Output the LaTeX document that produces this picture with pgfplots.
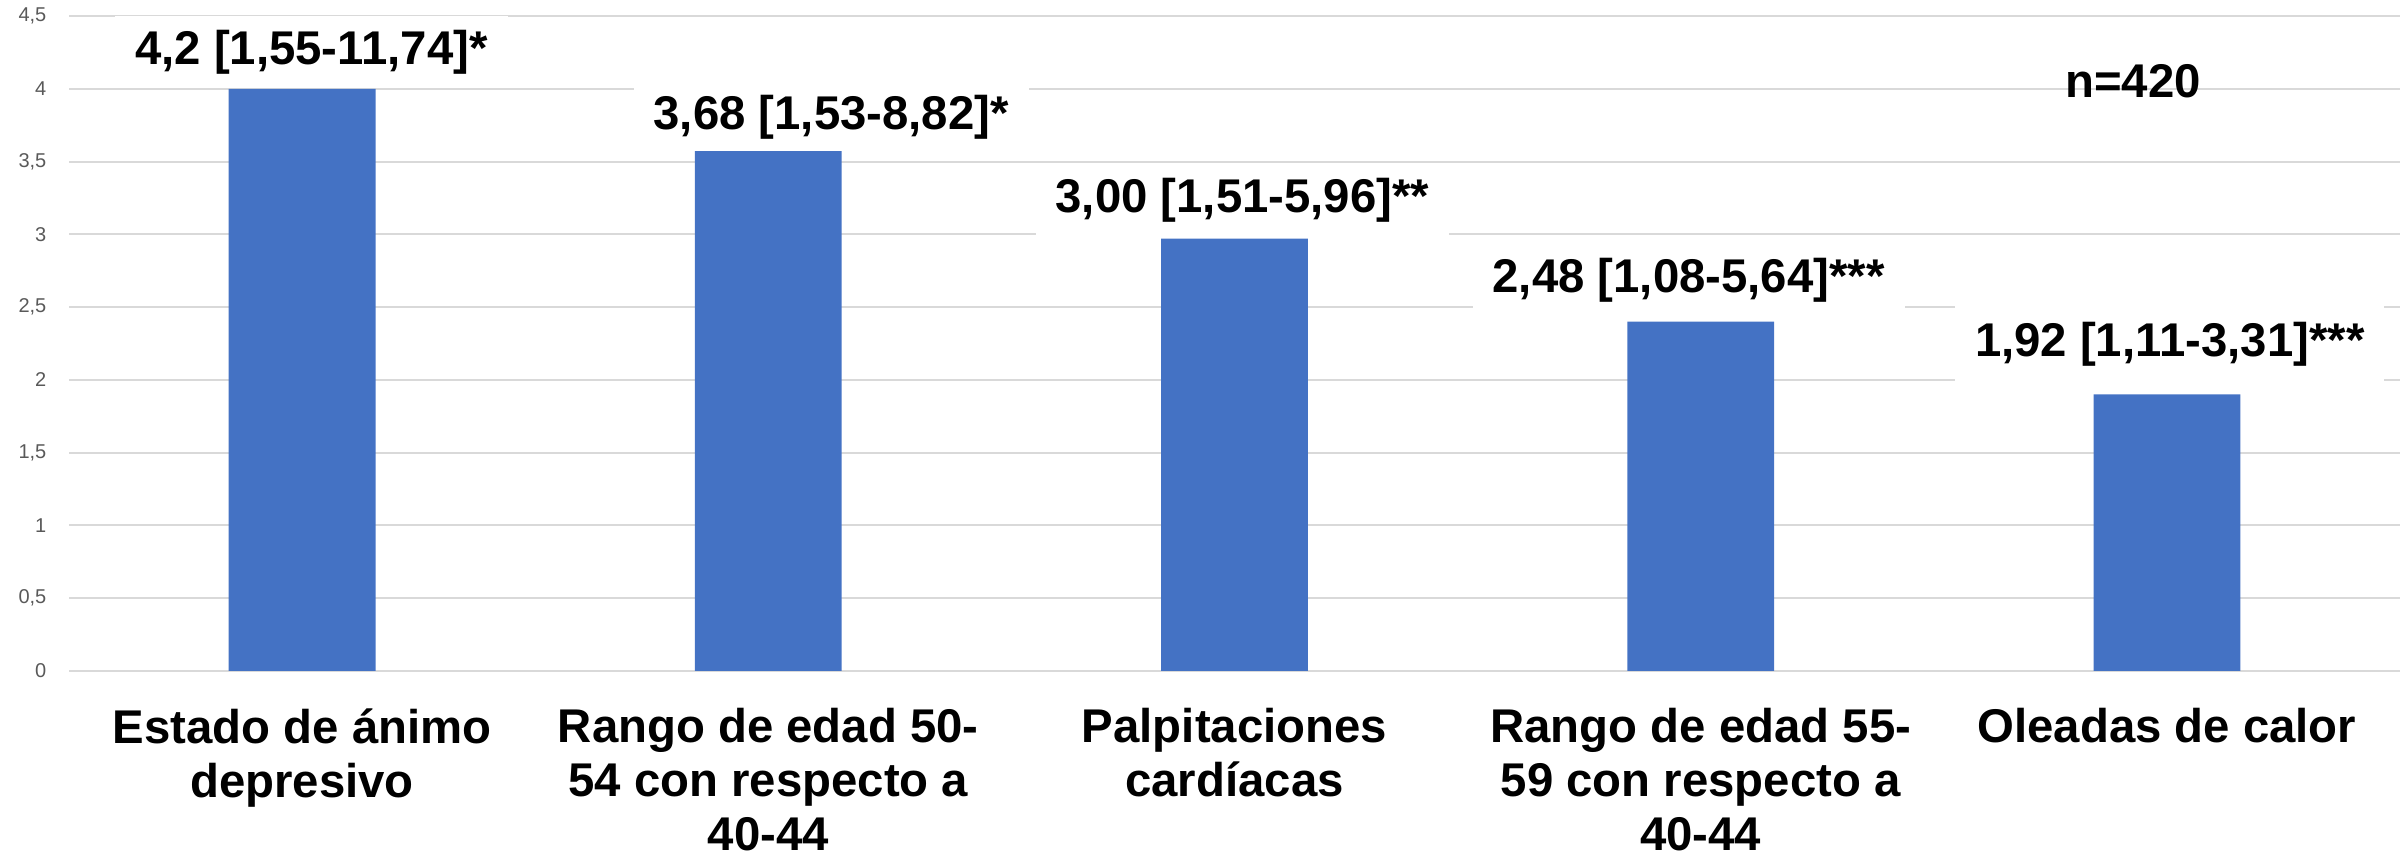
\documentclass[border=0pt]{standalone}
\usepackage{fontspec}
\setmainfont{Liberation Sans}
\usepackage{pgfplots}
\pgfplotsset{compat=1.18}
\usetikzlibrary{calc}
\definecolor{barblue}{HTML}{4472C4}
\definecolor{gridgray}{HTML}{D9D9D9}
\definecolor{tickgray}{HTML}{595959}

\begin{document}
\begin{tikzpicture}[x=1pt,y=1pt,
  lbl/.style={fill=white, inner xsep=6pt, inner ysep=3.5pt, anchor=base,
              font=\fontsize{14.2}{16}\selectfont\bfseries}]
\begin{axis}[
  name=ax,
  scale only axis,
  width=699.3pt, height=196.5pt,
  xmin=-0.5, xmax=4.5, ymin=0, ymax=4.5,
  ytick={0,0.5,1,1.5,2,2.5,3,3.5,4,4.5},
  yticklabel style={/pgf/number format/.cd, use comma, assume math mode=true,
     /tikz/.cd, font=\fontsize{6}{7}\selectfont, text=tickgray, inner xsep=0pt, xshift=-6.6pt},
  xtick={0,1,2,3,4},
  xticklabels={{Estado de ánimo\\depresivo},
               {Rango de edad 50-\\54 con respecto a\\40-44},
               {Palpitaciones\\cardíacas},
               {Rango de edad 55-\\59 con respecto a\\40-44},
               {Oleadas de calor}},
  xticklabel style={font=\fontsize{14.2}{16.2}\selectfont\bfseries, align=center, anchor=north, inner ysep=2pt, yshift=-9pt},
  axis line style={draw=none},
  major tick length=0pt,
  ymajorgrids,
  grid style={gridgray, line width=0.6pt},
  clip=false,
]
\addplot[ybar, fill=barblue, draw=none, bar width=0.315] coordinates {(0,4.0) (1,3.58) (2,2.97) (3,2.40) (4,1.90)};
\node[lbl, inner ysep=4pt] at (axis cs:0.02,4.17) {4,2 [1,55-11,74]*};
\node[lbl] at (axis cs:1.135,3.718) {3,68 [1,53-8,82]*};
\node[lbl, inner ysep=4.6pt] at (axis cs:2.017,3.148) {3,00 [1,51-5,96]**};
\node[lbl] at (axis cs:2.974,2.598) {2,48 [1,08-5,64]***};
\node[lbl, inner ysep=5pt] at (axis cs:4.006,2.158) {1,92 [1,11-3,31]***};
\node[anchor=base, font=\fontsize{14.2}{16}\selectfont\bfseries] at (axis cs:3.927,3.938) {n=420};
\end{axis}
\pgfresetboundingbox
\path[use as bounding box] ($(ax.south west)+(-20.7,-56.4)$) rectangle ($(ax.north east)+(0.6,4.8)$);
\end{tikzpicture}
\end{document}
